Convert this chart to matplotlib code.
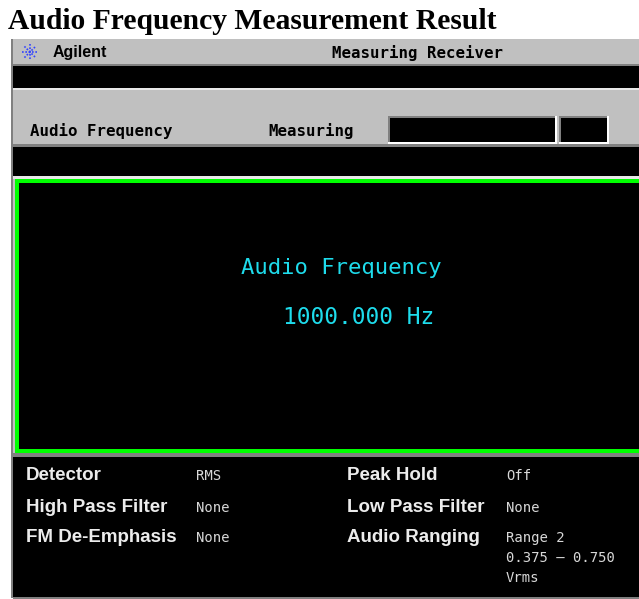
import matplotlib
matplotlib.use("Agg")
import matplotlib.pyplot as plt
from matplotlib.patches import Rectangle

title = "Audio Frequency Measurement Result"
brand = "Agilent"
instrument = "Measuring Receiver"
measure_name = "Audio Frequency"
measure_state = "Measuring"
result_label = "Audio Frequency"
result_value = "1000.000 Hz"

left_labels = ["Detector", "High Pass Filter", "FM De-Emphasis"]
left_values = ["RMS", "None", "None"]
right_labels = ["Peak Hold", "Low Pass Filter", "Audio Ranging"]
right_values = ["Off", "None", "Range 2"]
range_extra = ["0.375 \u2013 0.750", "Vrms"]

W, H = 639, 599
GRAY = "#c0c0c0"
DARK = "#808080"
LIGHT = "#e8e8e8"
GREEN = "#00ff00"
CYAN = "#1edcec"

fig = plt.figure(figsize=(W / 100, H / 100), dpi=100)
ax = fig.add_axes([0, 0, 1, 1])
ax.set_xlim(0, W)
ax.set_ylim(H, 0)
ax.axis("off")


def box(x0, y0, x1, y1, color):
    ax.add_patch(Rectangle((x0, y0), x1 - x0, y1 - y0, facecolor=color,
                           edgecolor="none", linewidth=0))


# title above the screen
ax.text(8, 29, title, family="Liberation Serif", fontweight="bold",
        fontsize=21.3, va="baseline", ha="left", color="black")

# instrument screen
box(11, 39, W, 598, GRAY)
box(11, 39, 13, 598, DARK)

# header row
cx, cy = 30, 52
for dx, dy in [(1, 0), (0, 1), (0.7, 0.7), (0.7, -0.7)]:
    ax.plot([cx - 8 * dx, cx + 8 * dx], [cy - 8 * dy, cy + 8 * dy],
            color="#3344ff", lw=1.2, ls=(0, (1, 1)))
ax.text(53, 52, brand, family="Liberation Sans", fontweight="bold",
        fontsize=11.5, va="center", ha="left", color="black")
ax.text(332, 53, instrument, family="DejaVu Sans Mono", fontweight="bold",
        fontsize=11.3, va="center", ha="left", color="black")

# first black bar
box(13, 64, W, 66, DARK)
box(13, 66, W, 88, "black")
box(13, 88, W, 90, LIGHT)

# measurement row
ax.text(30, 131, measure_name, family="DejaVu Sans Mono", fontweight="bold",
        fontsize=11.3, va="center", ha="left", color="black")
ax.text(268, 131, measure_state, family="DejaVu Sans Mono", fontweight="bold",
        fontsize=11.3, va="center", ha="left", color="black")
for x0, x1 in [(388, 557), (559, 609)]:
    box(x0, 116, x1, 144, "white")
    box(x0, 116, x1 - 2, 142, DARK)
    box(x0 + 2, 118, x1 - 2, 142, "black")

# second black bar
box(13, 144, W, 147, DARK)
box(13, 147, W, 176, "black")
box(13, 176, W, 179, LIGHT)

# main result area with green frame
box(15, 179, W, 453, GREEN)
box(19, 183, W, 449, "black")
ax.text(341, 268, result_label, family="DejaVu Sans Mono", fontsize=16,
        va="center", ha="center", color=CYAN)
ax.text(359, 317, result_value, family="DejaVu Sans Mono", fontsize=16.5,
        va="center", ha="center", color=CYAN)

# settings panel
box(13, 453, W, 457, DARK)
box(13, 457, W, 597, "black")
box(13, 597, W, 599, DARK)

row_y = [476, 508, 538]
label_font = dict(family="Liberation Sans", fontweight="bold",
                  fontsize=13.5, va="center", ha="left", color="#ececec")
value_font = dict(family="DejaVu Sans Mono", fontsize=10, va="center",
                  ha="left", color="#d8d8d8")
for y, lab, val in zip(row_y, left_labels, left_values):
    ax.text(26, y, lab, **label_font)
    ax.text(196, y, val, **value_font)
for y, lab, val in zip(row_y, right_labels, right_values):
    ax.text(347, y, lab, **label_font)
    ax.text(506, y, val, **value_font)
for i, line in enumerate(range_extra):
    ax.text(506, row_y[-1] + 20 * (i + 1), line, **value_font)

fig.savefig("out.png", dpi=100, facecolor="white")
